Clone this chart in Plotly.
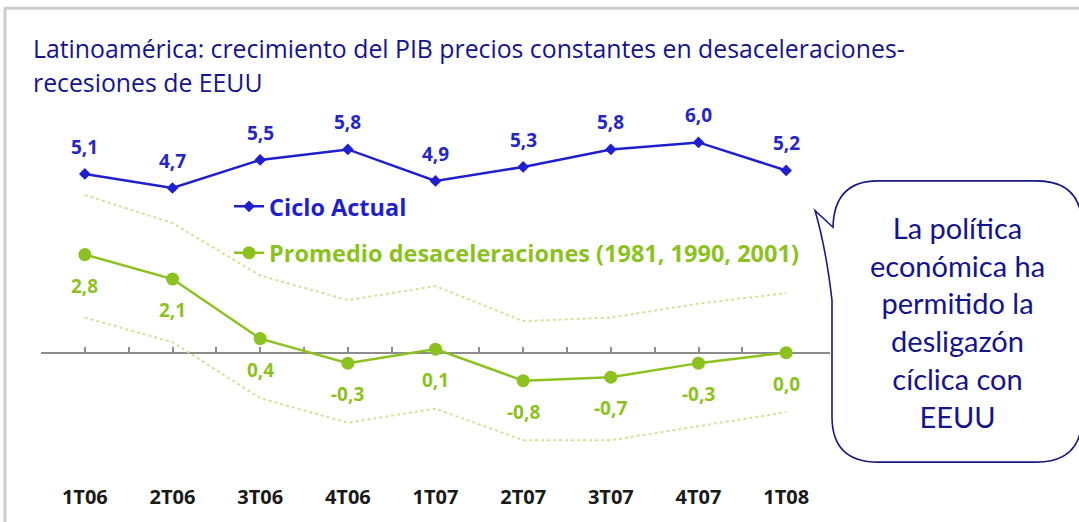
import numpy as np
import plotly.graph_objects as go

# ---------------- data ----------------
categories = ["1T06", "2T06", "3T06", "4T06", "1T07", "2T07", "3T07", "4T07", "1T08"]
ciclo_actual = [5.1, 4.7, 5.5, 5.8, 4.9, 5.3, 5.8, 6.0, 5.2]
promedio = [2.8, 2.1, 0.4, -0.3, 0.1, -0.8, -0.7, -0.3, 0.0]
banda_sup = [4.5, 3.7, 2.2, 1.5, 1.9, 0.9, 1.0, 1.4, 1.7]
banda_inf = [1.0, 0.3, -1.3, -2.0, -1.6, -2.5, -2.5, -2.1, -1.7]

title_lines = ["Latinoamérica: crecimiento del PIB precios constantes en desaceleraciones-",
               "recesiones de EEUU"]
name_actual = "Ciclo Actual"
name_prom = "Promedio desaceleraciones (1981, 1990, 2001)"
bubble_text = "La política<br>económica ha<br>permitido la<br>desligazón<br>cíclica con<br>EEUU"

# ---------------- layout geometry ----------------
W, H = 1079, 522
L, R, T, B = 41, 249, 100, 42
PW, PH = W - L - R, H - T - B
ZERO_PX = 356
PPU = 35.5
y0 = -(H - B - ZERO_PX) / PPU
y1 = (ZERO_PX - T) / PPU


def px(x):
    return (x - L) / PW


def py(y):
    return (H - B - y) / PH


BLUE = "#1f1fd0"
BLUE_TXT = "#2626c4"
GREEN = "#8cc21f"
DOT = "#d8df98"
NAVY = "#14148c"
FONT = "Open Sans"

xi = list(range(len(categories)))

fig = go.Figure()

# dotted band (on overlay axis)
for band in (banda_sup, banda_inf):
    fig.add_trace(go.Scatter(x=xi, y=band, mode="lines", xaxis="x2",
                             line=dict(color=DOT, width=2, dash="dot"),
                             showlegend=False, hoverinfo="skip"))

fig.add_trace(go.Scatter(
    x=xi, y=promedio, mode="lines+markers",
    name=f"<span style='color:{GREEN}'>{name_prom}</span>",
    line=dict(color=GREEN, width=2.5),
    marker=dict(symbol="circle", size=13, color=GREEN),
    legend="legend2"))

fig.add_trace(go.Scatter(
    x=xi, y=ciclo_actual, mode="lines+markers",
    name=f"<span style='color:{BLUE}'>{name_actual}</span>",
    line=dict(color=BLUE, width=2.5),
    marker=dict(symbol="diamond", size=9, color=BLUE),
    legend="legend"))

annotations = []
for i, v in enumerate(ciclo_actual):
    annotations.append(dict(x=i, y=v, xref="x", yref="y", text=f"{v:.1f}".replace(".", ","),
                            showarrow=False, yshift=27,
                            font=dict(family=FONT, size=19, color=BLUE_TXT, weight="bold")))
for i, v in enumerate(promedio):
    annotations.append(dict(x=i, y=v, xref="x", yref="y", text=f"{v:.1f}".replace(".", ","),
                            showarrow=False, yshift=-31,
                            font=dict(family=FONT, size=19, color=GREEN, weight="bold")))

# title lines
for k, (line, ypix) in enumerate(zip(title_lines, [47, 82])):
    annotations.append(dict(x=px(31), y=py(ypix), xref="paper", yref="paper",
                            xanchor="left", yanchor="middle", showarrow=False,
                            text=line, font=dict(family=FONT, size=24.8, color=NAVY)))

# bubble text
annotations.append(dict(x=px(957), y=py(325), xref="paper", yref="paper",
                        xanchor="center", yanchor="middle", align="center",
                        showarrow=False, text=bubble_text,
                        font=dict(family="Lato", size=29, color=NAVY)))

# bubble shape path (pixel -> paper)
bl, bt, br, bb, rr = 832, 182, 1082, 467, 46
pts = [
    ("M", [(832, 303)]),
    ("L", [(bl, bb - rr)]),
    ("Q", [(bl, bb), (bl + rr, bb)]),
    ("L", [(br - rr, bb)]),
    ("Q", [(br, bb), (br, bb - rr)]),
    ("L", [(br, bt + rr)]),
    ("Q", [(br, bt), (br - rr, bt)]),
    ("L", [(bl + rr, bt)]),
    ("Q", [(bl + 2, bt), (bl + 1, 229)]),
    ("L", [(815, 212)]),
    ("Q", [(826, 250), (832, 303)]),
]
path = ""
for cmd, ps in pts:
    path += cmd + " ".join(f"{px(a):.5f},{py(b):.5f}" for a, b in ps) + " "
path += "Z"

shapes = [
    dict(type="rect", xref="paper", yref="paper", x0=px(5), x1=px(1090), y0=py(7), y1=py(540),
         line=dict(color="#cdcdcd", width=3), fillcolor="rgba(0,0,0,0)", layer="below"),
    dict(type="path", xref="paper", yref="paper", path=path,
         line=dict(color="#1a1a80", width=1.6), fillcolor="white", layer="above"),
]

zero_pos = (0 - y0) / (y1 - y0)

fig.update_layout(
    width=W, height=H,
    margin=dict(l=L, r=R, t=T, b=B, pad=0),
    paper_bgcolor="white", plot_bgcolor="white",
    showlegend=True,
    xaxis=dict(range=[-0.5, len(categories) - 0.5], tickvals=xi, ticktext=categories,
               showgrid=False, zeroline=False, showline=False,
               ticks="outside", ticklen=4, tickcolor="rgba(0,0,0,0)",
               tickfont=dict(family=FONT, size=20, color="#1a1a1a", weight="bold"),
               fixedrange=True),
    xaxis2=dict(range=[-0.5, len(categories) - 0.5], overlaying="x", anchor="free",
                position=zero_pos, side="bottom",
                tickvals=list(np.arange(-0.5, len(categories), 0.5)),
                ticks="inside", ticklen=5, tickwidth=1.5, tickcolor="#8c8c8c",
                showline=True, linecolor="#8c8c8c", linewidth=2,
                showticklabels=False, showgrid=False, zeroline=False,
                layer="below traces"),
    yaxis=dict(range=[y0, y1], visible=False, showgrid=False, zeroline=False),
    legend=dict(x=px(229), y=py(208), xanchor="left", yanchor="middle",
                bgcolor="rgba(0,0,0,0)", font=dict(family=FONT, size=23.5, weight="bold"),
                itemwidth=30),
    legend2=dict(x=px(229), y=py(255), xanchor="left", yanchor="middle",
                 bgcolor="rgba(0,0,0,0)", font=dict(family=FONT, size=23.5, weight="bold"),
                 itemwidth=30),
    annotations=annotations,
    shapes=shapes,
)

fig.write_html("out.html", config={"displayModeBar": False},
               post_script="document.body.style.margin='0px';document.body.style.overflow='hidden';")
